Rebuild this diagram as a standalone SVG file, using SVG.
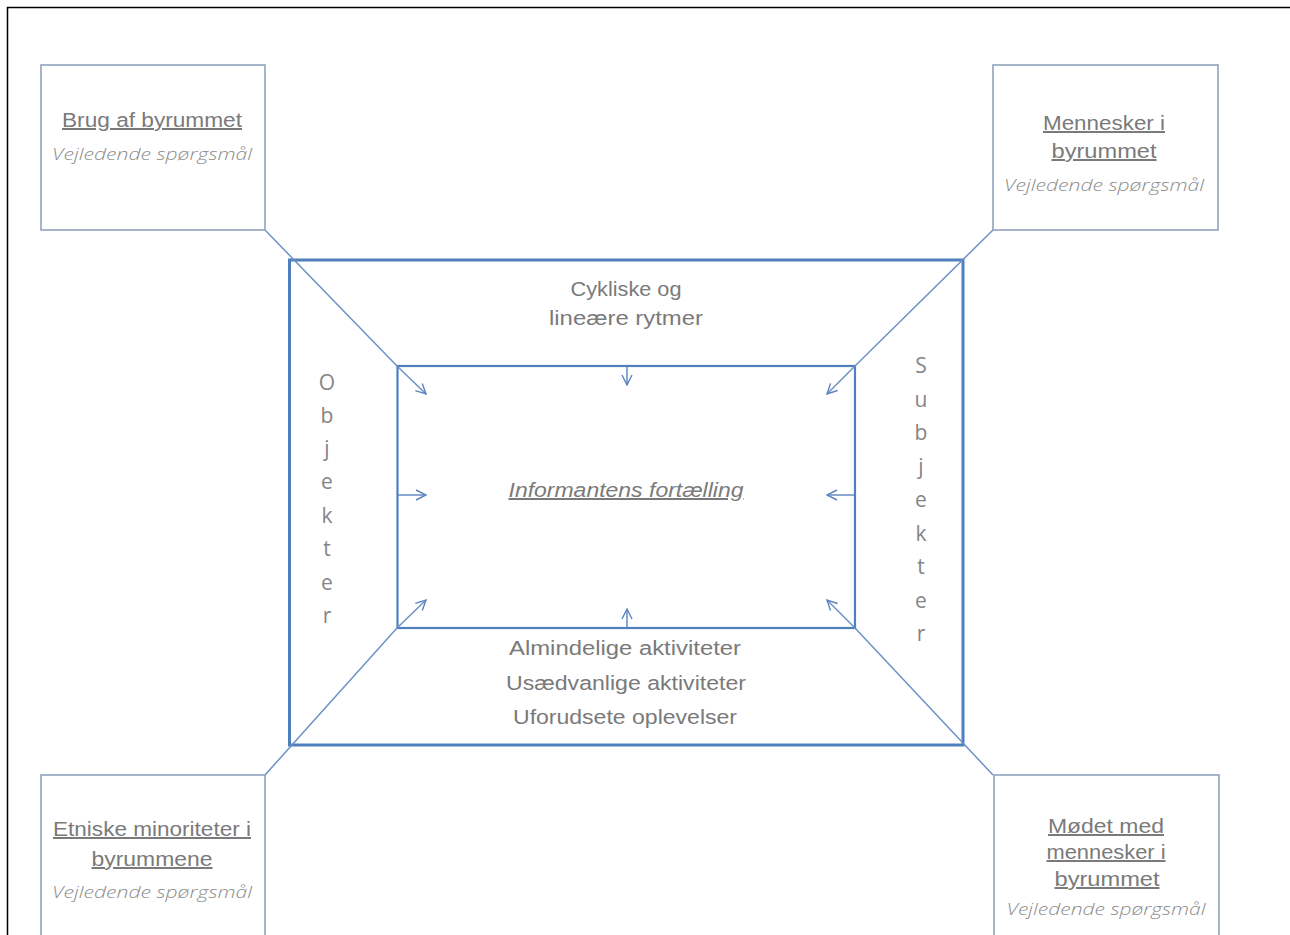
<svg xmlns="http://www.w3.org/2000/svg" width="1290" height="935" viewBox="0 0 1290 935">
<defs>
<marker id="arr" viewBox="0 0 12 12" refX="11" refY="6" markerWidth="12" markerHeight="12" markerUnits="userSpaceOnUse" orient="auto">
<path d="M1,1 L11,6 L1,11" fill="none" stroke="#5b84bf" stroke-width="1.4"/>
</marker>
<style>
.box{fill:#ffffff;stroke:#8a9dba;stroke-width:1.5}
.ttl{font-family:"Liberation Sans",Arial,sans-serif;font-size:20px;fill:#7a7a7a;text-anchor:middle;text-decoration:underline}
.sub{font-family:"Open Sans","Liberation Sans",sans-serif;font-size:17px;font-style:italic;font-weight:300;fill:#8c8c8c;text-anchor:middle}
.lbl{font-family:"Liberation Sans",Arial,sans-serif;font-size:20px;fill:#7a7a7a;text-anchor:middle}
.vl{font-family:"Open Sans","Liberation Sans",sans-serif;font-size:21px;fill:#858585;text-anchor:middle}
.con{fill:none;stroke:#6d92c6;stroke-width:1.5}
.in{fill:none;stroke:#5b84bf;stroke-width:1.4}
</style>
</defs>
<rect x="0" y="0" width="1290" height="935" fill="#ffffff"/>
<path d="M7.5,935 V7.5 H1290" fill="none" stroke="#000000" stroke-width="1.5"/>

<g id="frame">
<rect id="outer" x="289.5" y="260" width="673.5" height="485" fill="none" stroke="#4f7fbc" stroke-width="3"/>
<rect id="inner" x="397.5" y="366" width="457.5" height="262" fill="none" stroke="#4f7fbc" stroke-width="2.2"/>
</g>

<g id="connectors">
<polyline class="con" points="265,230 397,366 426,394" marker-end="url(#arr)"/>
<polyline class="con" points="993,230 855,366 827,394" marker-end="url(#arr)"/>
<polyline class="con" points="265,775 397,628 426,600" marker-end="url(#arr)"/>
<polyline class="con" points="993,775 855,628 827,600" marker-end="url(#arr)"/>
<line class="in" x1="627" y1="366" x2="627" y2="385" marker-end="url(#arr)"/>
<line class="in" x1="627" y1="628" x2="627" y2="609" marker-end="url(#arr)"/>
<line class="in" x1="397" y1="495" x2="426" y2="495" marker-end="url(#arr)"/>
<line class="in" x1="855" y1="495" x2="827" y2="495" marker-end="url(#arr)"/>
</g>

<g id="node-brug">
<rect class="box" x="41" y="65" width="224" height="165"/>
<text class="ttl" x="152" y="127" textLength="180" lengthAdjust="spacingAndGlyphs">Brug af byrummet</text>
<text class="sub" x="152" y="160" textLength="200" lengthAdjust="spacingAndGlyphs">Vejledende spørgsmål</text>
</g>

<g id="node-mennesker">
<rect class="box" x="993" y="65" width="225" height="165"/>
<text class="ttl" x="1104" y="130" textLength="122" lengthAdjust="spacingAndGlyphs">Mennesker i</text>
<text class="ttl" x="1104" y="158" textLength="105" lengthAdjust="spacingAndGlyphs">byrummet</text>
<text class="sub" x="1104" y="191" textLength="200" lengthAdjust="spacingAndGlyphs">Vejledende spørgsmål</text>
</g>

<g id="node-etniske">
<rect class="box" x="41" y="775" width="224" height="170"/>
<text class="ttl" x="152" y="836" textLength="198" lengthAdjust="spacingAndGlyphs">Etniske minoriteter i</text>
<text class="ttl" x="152" y="866" textLength="121" lengthAdjust="spacingAndGlyphs">byrummene</text>
<text class="sub" x="152" y="898" textLength="200" lengthAdjust="spacingAndGlyphs">Vejledende spørgsmål</text>
</g>

<g id="node-modet">
<rect class="box" x="994" y="775" width="225" height="170"/>
<text class="ttl" x="1106" y="833" textLength="116" lengthAdjust="spacingAndGlyphs">Mødet med</text>
<text class="ttl" x="1106" y="859" textLength="119" lengthAdjust="spacingAndGlyphs">mennesker i</text>
<text class="ttl" x="1107" y="886" textLength="105" lengthAdjust="spacingAndGlyphs">byrummet</text>
<text class="sub" x="1106" y="915" textLength="199" lengthAdjust="spacingAndGlyphs">Vejledende spørgsmål</text>
</g>

<g id="node-rytmer">
<text class="lbl" x="626" y="296" textLength="111" lengthAdjust="spacingAndGlyphs">Cykliske og</text>
<text class="lbl" x="626" y="325" textLength="154" lengthAdjust="spacingAndGlyphs">lineære rytmer</text>
</g>

<g id="node-informant">
<text class="lbl" x="626" y="497" font-style="italic" text-decoration="underline" textLength="235" lengthAdjust="spacingAndGlyphs">Informantens fortælling</text>
</g>

<g id="node-aktiviteter">
<text class="lbl" x="625" y="655" textLength="232" lengthAdjust="spacingAndGlyphs">Almindelige aktiviteter</text>
<text class="lbl" x="626" y="690" textLength="240" lengthAdjust="spacingAndGlyphs">Usædvanlige aktiviteter</text>
<text class="lbl" x="625" y="724" textLength="224" lengthAdjust="spacingAndGlyphs">Uforudsete oplevelser</text>
</g>

<g id="node-objekter">
<text class="vl" x="327" y="390">O</text>
<text class="vl" x="327" y="423">b</text>
<text class="vl" x="327" y="456">j</text>
<text class="vl" x="327" y="489">e</text>
<text class="vl" x="327" y="523">k</text>
<text class="vl" x="327" y="556">t</text>
<text class="vl" x="327" y="590">e</text>
<text class="vl" x="327" y="623">r</text>
</g>

<g id="node-subjekter">
<text class="vl" x="921" y="373">S</text>
<text class="vl" x="921" y="407">u</text>
<text class="vl" x="921" y="440">b</text>
<text class="vl" x="921" y="474">j</text>
<text class="vl" x="921" y="507">e</text>
<text class="vl" x="921" y="541">k</text>
<text class="vl" x="921" y="574">t</text>
<text class="vl" x="921" y="608">e</text>
<text class="vl" x="921" y="641">r</text>
</g>
</svg>
